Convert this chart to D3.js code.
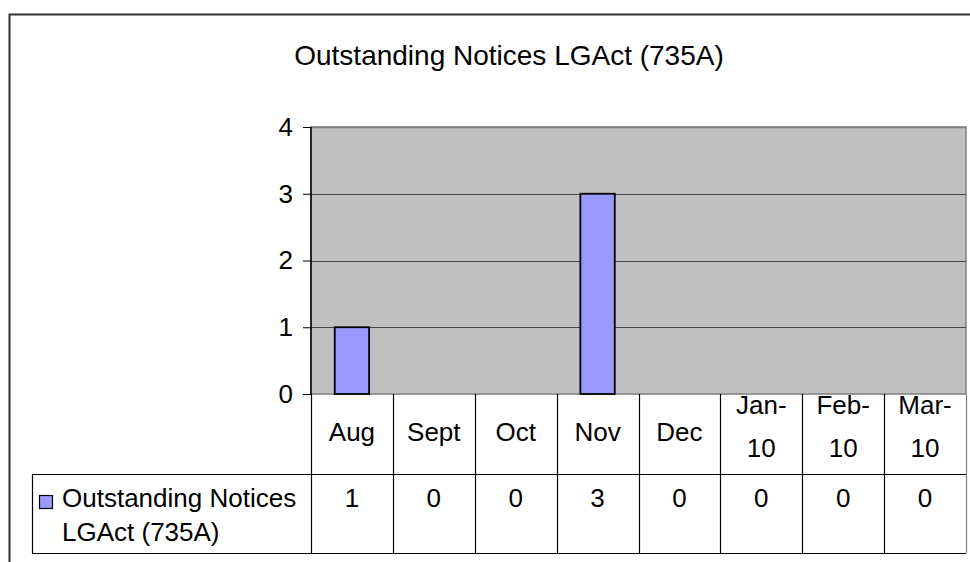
<!DOCTYPE html>
<html><head><meta charset="utf-8">
<script src="https://cdn.jsdelivr.net/npm/d3@7"></script>
<style>
html,body{margin:0;padding:0;background:#fff;}
svg{display:block;font-family:"Liberation Sans",Arial,sans-serif;}
</style></head>
<body>
<svg id="chart" width="970" height="562"></svg>
<script>
const title = "Outstanding Notices LGAct (735A)";
const categories = ["Aug","Sept","Oct","Nov","Dec","Jan-10","Feb-10","Mar-10"];
const values = [1,0,0,3,0,0,0,0];
const yTicks = [0,1,2,3,4];
const legendLines = ["Outstanding Notices","LGAct (735A)"];

const svg = d3.select("#chart");
const plot = {left:311, right:966, top:127, bottom:394};
const table = {row1:474, row2:553, legendLeft:32};

// outer frame
svg.append("rect").attr("x",9.5).attr("y",14.5).attr("width",975).attr("height",570)
  .attr("fill","#fff").attr("stroke","#333").attr("stroke-width",2);

svg.append("text").attr("x",509).attr("y",65).attr("text-anchor","middle")
  .attr("font-size",28).attr("fill","#000").text(title);

const x = d3.scaleBand().domain(categories).range([plot.left, plot.right]).paddingInner(0).paddingOuter(0);
const y = d3.scaleLinear().domain([0,4]).range([plot.bottom, plot.top]);

// plot background
svg.append("rect").attr("x",plot.left).attr("y",plot.top)
  .attr("width",plot.right-plot.left).attr("height",plot.bottom-plot.top)
  .attr("fill","#c0c0c0").attr("stroke","#808080").attr("stroke-width",1.5);

// gridlines
svg.append("g").selectAll("line").data(yTicks.filter(d=>d>0)).join("line")
  .attr("x1",plot.left).attr("x2",plot.right)
  .attr("y1",d=>Math.round(y(d))+0.5).attr("y2",d=>Math.round(y(d))+0.5)
  .attr("stroke",d=>d===4?"#808080":"#444").attr("stroke-width",d=>d===4?1.5:1);

// bars
const bw = x.bandwidth()*0.42;
svg.append("g").selectAll("rect").data(values).join("rect")
  .attr("x",(d,i)=>x(categories[i])+(x.bandwidth()-bw)/2)
  .attr("y",d=>y(d)).attr("width",bw).attr("height",d=>y(0)-y(d))
  .attr("fill","#9999ff").attr("stroke","#000").attr("stroke-width",1.8)
  .attr("display",d=>d>0?null:"none");

// y axis
const yAxis = d3.axisLeft(y).tickValues(yTicks).tickSize(8).tickPadding(10).tickFormat(d3.format("d"));
const ga = svg.append("g").attr("transform",`translate(${plot.left},0)`).call(yAxis);
ga.select(".domain").attr("stroke","#000").attr("stroke-width",1.5).attr("d",`M0,${plot.top}V${plot.bottom}`);
ga.selectAll(".tick line").attr("stroke","#000");
ga.selectAll(".tick text").attr("font-size",26).attr("font-family","Liberation Sans, Arial, sans-serif").attr("fill","#000");

// data table
const tg = svg.append("g");
const edges = categories.map(c=>x(c)).concat([plot.right]);
tg.selectAll("line.v").data(edges).join("line").attr("class","v")
  .attr("x1",d=>Math.round(d)+0.5).attr("x2",d=>Math.round(d)+0.5)
  .attr("y1",plot.bottom).attr("y2",table.row2)
  .attr("stroke",(d,i)=>i===edges.length-1?"#808080":"#000").attr("stroke-width",1.2);
tg.append("line").attr("x1",table.legendLeft).attr("x2",plot.right).attr("y1",table.row1+0.5).attr("y2",table.row1+0.5).attr("stroke","#000").attr("stroke-width",1.2);
tg.append("line").attr("x1",table.legendLeft).attr("x2",plot.right).attr("y1",table.row2+0.5).attr("y2",table.row2+0.5).attr("stroke","#000").attr("stroke-width",1.2);
tg.append("line").attr("x1",table.legendLeft+0.5).attr("x2",table.legendLeft+0.5).attr("y1",table.row1).attr("y2",table.row2).attr("stroke","#000").attr("stroke-width",1.2);

// category labels
categories.forEach(c=>{
  const parts = c.includes("-") ? [c.slice(0,c.indexOf("-")+1), c.slice(c.indexOf("-")+1)] : [c];
  const cx = x(c)+x.bandwidth()/2;
  const t = tg.append("text").attr("x",cx).attr("text-anchor","middle").attr("font-size",26).attr("fill","#000");
  if(parts.length===1){ t.attr("y",441).text(parts[0]); }
  else {
    t.append("tspan").attr("x",cx).attr("y",414).text(parts[0]);
    t.append("tspan").attr("x",cx).attr("y",457).text(parts[1]);
  }
});
// values
tg.selectAll("text.val").data(values).join("text").attr("class","val")
  .attr("x",(d,i)=>x(categories[i])+x.bandwidth()/2).attr("y",507)
  .attr("text-anchor","middle").attr("font-size",26).attr("fill","#000").text(d=>d);

// legend key
tg.append("rect").attr("x",39.5).attr("y",495.5).attr("width",13).attr("height",13)
  .attr("fill","#9999ff").attr("stroke","#000").attr("stroke-width",1.2);
tg.selectAll("text.leg").data(legendLines).join("text").attr("class","leg")
  .attr("x",62).attr("y",(d,i)=>507+i*34).attr("font-size",26).attr("fill","#000").text(d=>d);
</script>
</body></html>
